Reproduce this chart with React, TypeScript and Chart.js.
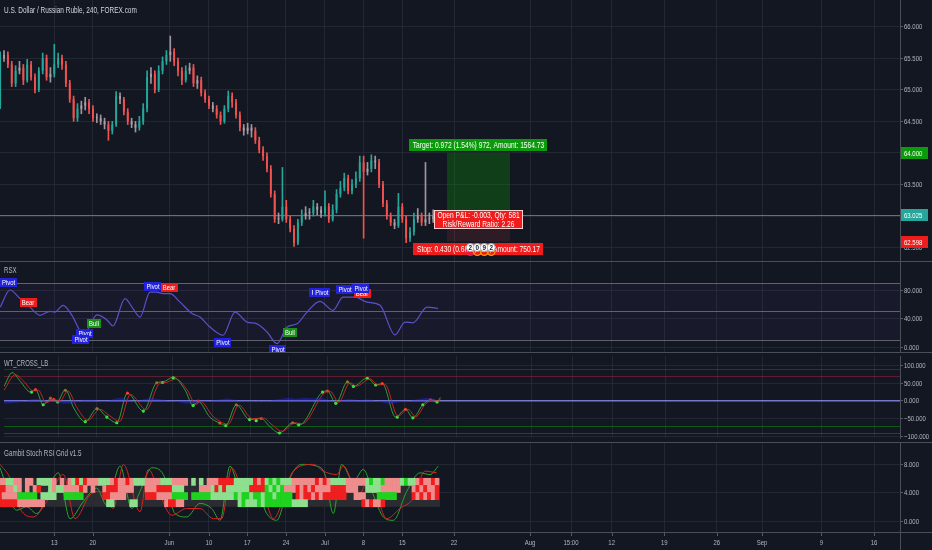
import React, { useEffect, useRef } from "react";
import { Chart, registerables } from "chart.js";

Chart.register(...registerables);

// ---------------- colours / text ----------------
const BG = "#131722";
const GRID = "rgba(42,46,57,0.75)";
const AXIS_TEXT = "#b2b5be";
const SEPARATOR = "#4a4e59";
const FONT = '"Liberation Sans", Arial, sans-serif';
const SX = 0.74;
const UP = "#26a69a";
const DOWN = "#ef5350";
const NEUTRAL = "rgba(172,160,168,0.92)";
const GREEN_TAG = "#0b9a0b";
const RED_TAG = "#ee1c1c";
const TEAL_TAG = "#26a69a";

// ---------------- time axis (unit = trading day from Mon 6 May) ----------------
const X_MIN_DAY = -2.02;
const X_MAX_DAY = 114.36;
const xTickDays = [5, 9.97, 19.87, 25.0, 29.96, 34.96, 40.0, 44.96, 50.0, 56.69, 66.52, 71.82, 77.08, 83.88, 90.66, 96.52, 104.19, 111.0];
const xTickLabels = ["13", "20", "Jun", "10", "17", "24", "Jul", "8", "15", "22", "Aug", "15:00", "12", "19", "26", "Sep", "9", "16"];

// ---------------- price pane ----------------
const titleText = "U.S. Dollar / Russian Ruble, 240, FOREX.com";
const PRICE_MIN = 62.29;
const PRICE_MAX = 66.42;
const priceTicks = [62.5, 63, 63.5, 64, 64.5, 65, 65.5, 66];
const FIRST_BAR_DAY = -2;
const BAR_STEP = 0.5;
const firstOpen = 64.75;
const closes = [
  65.50, 65.55, 65.40, 65.10, 65.30, 65.35, 65.15, 65.40, 65.20, 65.00,
  65.30, 65.50, 65.20, 65.25, 65.40, 65.50, 65.40, 65.10, 64.85, 64.55,
  64.70, 64.75, 64.80, 64.70, 64.55, 64.55, 64.50, 64.45, 64.35, 64.45,
  64.90, 64.85, 64.65, 64.50, 64.45, 64.40, 64.50, 64.70, 65.20, 65.25,
  65.00, 65.30, 65.45, 65.55, 65.60, 65.45, 65.30, 65.15, 65.30, 65.35,
  65.10, 65.15, 64.95, 64.85, 64.75, 64.70, 64.60, 64.50, 64.70, 64.90,
  64.80, 64.60, 64.40, 64.35, 64.40, 64.35, 64.20, 64.05, 63.95, 63.75,
  63.35, 62.95, 62.95, 63.15, 62.95, 62.80, 62.58, 62.90, 63.00, 63.05,
  63.05, 63.15, 63.10, 63.05, 63.15, 62.95, 63.10, 63.35, 63.45, 63.60,
  63.40, 63.50, 63.60, 63.85, 63.70, 63.75, 63.88, 63.85, 63.50, 63.20,
  63.00, 62.90, 62.85, 63.15, 62.95, 62.65, 62.75, 62.95, 63.00, 62.90,
  62.95, 62.95, 63.00, 63.025,
];
const highs = [
  65.60, 65.62, 65.60, 65.45, 65.38, 65.45, 65.40, 65.48, 65.45, 65.25,
  65.35, 65.58, 65.55, 65.35, 65.72, 65.58, 65.55, 65.45, 65.15, 64.90,
  64.78, 64.82, 64.88, 64.85, 64.75, 64.62, 64.60, 64.55, 64.50, 64.50,
  64.97, 64.95, 64.88, 64.70, 64.55, 64.50, 64.58, 64.78, 65.30, 65.35,
  65.30, 65.38, 65.52, 65.62, 65.85, 65.65, 65.50, 65.35, 65.38, 65.42,
  65.40, 65.22, 65.20, 65.00, 64.90, 64.80, 64.75, 64.65, 64.75, 64.98,
  64.95, 64.85, 64.65, 64.45, 64.47, 64.45, 64.40, 64.25, 64.10, 64.00,
  63.80, 63.40, 63.05, 63.77, 63.25, 63.00, 62.85, 62.95, 63.10, 63.15,
  63.12, 63.25, 63.20, 63.15, 63.40, 63.20, 63.18, 63.42, 63.55, 63.68,
  63.65, 63.58, 63.70, 63.95, 63.95, 63.85, 63.97, 63.95, 63.90, 63.55,
  63.25, 63.05, 62.95, 63.36, 63.20, 63.00, 62.82, 63.05, 63.12, 63.05,
  63.85, 63.05, 63.10, 63.08,
];
const lows = [
  64.70, 65.45, 65.35, 65.05, 65.05, 65.25, 65.08, 65.12, 65.15, 64.95,
  64.97, 65.25, 65.15, 65.12, 65.20, 65.35, 65.32, 65.05, 64.80, 64.50,
  64.50, 64.62, 64.68, 64.62, 64.50, 64.48, 64.45, 64.38, 64.20, 64.30,
  64.42, 64.78, 64.60, 64.45, 64.40, 64.33, 64.36, 64.45, 64.65, 65.10,
  64.95, 64.97, 65.25, 65.40, 65.45, 65.38, 65.22, 65.08, 65.12, 65.25,
  65.05, 65.02, 64.90, 64.80, 64.70, 64.65, 64.55, 64.45, 64.47, 64.65,
  64.72, 64.55, 64.35, 64.28, 64.30, 64.25, 64.15, 64.00, 63.88, 63.70,
  63.30, 62.90, 62.88, 62.92, 62.90, 62.75, 62.52, 62.55, 62.85, 62.95,
  62.95, 63.00, 63.02, 62.98, 63.00, 62.90, 62.92, 63.05, 63.30, 63.40,
  63.35, 63.35, 63.45, 63.55, 62.65, 63.65, 63.70, 63.75, 63.45, 63.15,
  62.95, 62.85, 62.80, 62.82, 62.90, 62.58, 62.60, 62.70, 62.90, 62.85,
  62.85, 62.88, 62.90, 62.95,
];
const entryPrice = 63.025;
const targetPrice = 64.0;
const stopPrice = 62.598;
const positionDays = [55.78, 63.93];
const targetText = "Target: 0.972 (1.54%) 972, Amount: 1564.73";
const pnlLines = ["Open P&L: -0.003, Qty: 581", "Risk/Reward Ratio: 2.26"];
const stopText = "Stop: 0.430 (0.68%) 430, Amount: 750.17";
const eventDays = [58.8, 59.7, 60.6, 61.5];
const eventTexts = ["2", "0", "9", "2"];
const eventRingColors = ["#e91e63", "#ff9800", "#ff9800", "#ff9800"];

// ---------------- RSX pane ----------------
const RSX_MIN = -7;
const RSX_MAX = 120.7;
const rsxTicks = [0, 40, 80];
const rsxLevels = [90, 50, 10];
const rsxDays = [-2.0, -0.73, 0.57, 1.86, 3.15, 4.44, 5.09, 6.13, 7.29, 8.58, 8.97, 10.52, 11.81, 12.59, 14.14, 15.18, 16.08, 17.38, 18.28, 19.06, 19.96, 21.26, 22.81, 23.84, 25.14, 26.82, 28.37, 29.92, 31.21, 32.51, 33.8, 35.09, 36.38, 37.68, 39.36, 41.04, 42.33, 43.88, 45.44, 47.12, 49.06, 50.35, 51.38, 53.2, 54.62];
const rsxValues = [56, 80, 68, 56, 44.5, 50, 49, 58.5, 44.5, 21, 21, 45, 38, 29.5, 68, 54, 42, 77, 77, 75, 75, 63, 47, 42, 28, 16.5, 49, 35, 32.5, 21, 4.7, 28, 32.5, 49, 64, 51.5, 70, 70, 63, 58.5, 17, 35, 34, 56, 54];
const rsxLabelDays = [-0.9, 1.6, 8.97, 10.14, 8.45, 17.76, 19.83, 26.81, 33.93, 35.48, 39.1, 39.6, 44.8, 42.59, 44.66];
const rsxLabelValues = [91, 63, 19, 32.3, 11.2, 85.6, 84.2, 7, -4, 21, 75.8, 75.8, 74.4, 81.4, 82.8];
const rsxLabelTexts = ["Pivot", "Bear", "Pivot", "Bull", "Pivot", "Pivot", "Bear", "Pivot", "Pivot", "Bull", "Pivot", "Pivot", "Bear", "Pivot", "Pivot"];

// ---------------- WT_CROSS_LB pane ----------------
const WT_MIN = -105.2;
const WT_MAX = 127.1;
const wtTicks = [-100, -50, 0, 50, 100];
const wtObLevels = [90, 70];
const wtOsLevels = [-70, -90];
const wt1Days = [-2.02, -0.95, 0.14, 1.43, 2.08, 3.07, 4.01, 4.88, 5.95, 7.03, 8.54, 10.05, 11.34, 12.63, 14.01, 16.08, 17.81, 18.67, 19.96, 21.47, 22.55, 23.19, 24.71, 26.0, 26.78, 28.15, 29.88, 31.38, 32.47, 33.76, 35.48, 36.35, 39.36, 40.0, 41.08, 42.59, 43.37, 45.18, 46.26, 47.12, 48.84, 50.13, 51.09, 52.38, 53.37, 54.23, 54.66];
const wt1Values = [41, 80, 54, 25, 32, -11, 6, -3, 32, -20, -59, -22, -46, -62, 22, -29, 51, 54, 67, 32, -13, -1, -46, -63, -70, -11, -53, -50, -72, -91, -62, -68, 25, 28, -7, 54, 41, 65, 45, 49, -46, -24, -48, -11, 3, -3, 10];
const wt2Days = [-2.02, -0.55, 0.55, 1.8, 2.45, 3.45, 4.35, 5.25, 6.3, 7.4, 8.9, 10.4, 11.7, 13.0, 14.4, 16.45, 18.15, 19.0, 20.3, 21.8, 22.9, 23.55, 25.05, 26.35, 27.1, 28.5, 30.2, 31.7, 32.8, 34.1, 35.8, 36.7, 39.7, 40.35, 41.45, 42.9, 43.75, 45.5, 46.6, 47.45, 49.15, 50.45, 51.45, 52.7, 53.7, 54.5, 54.66];
const wt2Values = [30, 74, 55, 28, 30, -6, 4, 0, 28, -17, -55, -24, -42, -58, 18, -25, 48, 52, 62, 30, -10, -2, -42, -62, -66, -12, -50, -49, -68, -86, -62, -65, 24, 27, -4, 51, 42, 62, 45, 47, -43, -24, -45, -10, 3, -1, 5];
const greenDotDays = [1.56, 3.07, 4.96, 8.54, 11.34, 12.63, 16.08, 18.58, 19.96, 22.55, 26.78, 29.88, 30.74, 33.76, 36.26, 39.36, 41.08, 43.37, 45.18, 46.26, 49.06, 51.09, 52.38, 54.23];
const greenDotValues = [25, -11, -3, -59, -46, -62, -29, 52, 65, -13, -70, -53, -56, -91, -68, 25, -7, 41, 64, 45, -46, -48, -11, -3];
const redDotDays = [2.08, 4.01, 4.44, 5.95, 10.05, 14.01, 17.81, 23.2, 26.0, 28.15, 31.38, 35.48, 40.0, 42.59, 47.12, 50.13, 53.37];
const redDotValues = [32, 8, 4, 30, -22, 22, 51, -1, -63, -11, -50, -62, 28, 54, 49, -24, 3];
const WT_HIST_FIRST_DAY = -2;
const wtHist = [-8, -6, -4, 2, 5, 3, -2, -5, -8, -6, 2, 3, 2, -3, 4, 8, 5, -2, 4, 8, 5, 2, -2, -5, -8, -6, -3, 2, 4, 7, 3, -2, -3, 2, -2, 3, 6, 8, 6, 9, 7, 8, 4, -2, 3, 5, 2, 4, 2, -4, -8, -5, -2, 2, 6, 8, 5];

// ---------------- Gambit Stoch RSI Grid pane ----------------
const GB_MIN = -1.54;
const GB_MAX = 11.09;
const gbTicks = [0, 4, 8];
const gbBand = [2, 6];
const gbBandDays = [-2.02, 54.88];
// one string per grid row (bottom row first); R red, r light red, G green, g light green, . empty
const gbRows = [
  "RRRRR" + "rrrrrrr" + "................" + "gg" + "...." + "gg" + "......." + "rRRrr" + ".............." + "gGgggGg" + "GGGGGGG" + "gggg" + ".............." + "RrRrrR" + "..............",
  "R" + "rrrr" + "GGGGG" + "." + "gggg" + ".." + "GGGGG" + "....." + "RR" + "rrrr" + "....." + "RRR" + "rrrr" + "GGGG" + "." + "GGGGG" + "gggggg" + "GgGGgGGgGGg" + "GGGG" + "." + "RrRRrRrRR" + "RRRR" + ".." + "rrr" + "..." + "GGGGG" + "...." + "RrRrRrR",
  "RR" + "rr" + "g" + "r.r.r" + "R" + ".." + "grgg" + "rrrr" + "R" + "r.r..r" + "RRR" + "rrrr" + "..." + "rrr" + "RRRR" + "ggg" + "...." + "rrr" + "gRgRg" + "ggggg" + "RRRR" + "GgGgG" + "rrr" + "RrRrRr" + "rrr" + "RRRR" + "rrr" + ".." + "gggg" + "rrrrr" + "..." + "rRrRrrR",
  "rr" + "gg" + "rr" + "." + "rr" + ".g" + "ggg" + "r.r.r" + "gRgR" + "rrr" + "ggg" + "rRrrRr" + "ggg" + "rrrr" + "ggg" + "rrrr" + ".g.g." + "rrr" + "RRRR" + "ggggg" + "RrR" + "gGgGggg" + "rrrrr" + "rRrRr" + "gggg" + "rrrrr" + "gGggG" + "rrrr" + "gGgg" + "rRrrRr",
];
const gbCellColors: Record<string, string> = { R: "#f01e1e", r: "#ef8c8c", G: "#1fd21f", g: "#8ee08e" };
const kDays = [-2.02, 0.14, 1.43, 2.72, 5.52, 7.03, 8.75, 10.48, 11.77, 13.5, 15.01, 16.08, 17.6, 19.1, 20.61, 22.12, 23.84, 25.35, 26.43, 27.72, 29.01, 30.74, 32.47, 33.76, 35.48, 36.99, 38.93, 40.01, 41.08, 42.16, 43.67, 44.96, 46.26, 47.55, 48.84, 50.57, 52.29, 53.58, 54.66];
const kValues = [7.47, 1.52, 2.0, 1.05, 6.76, 0.33, 2.71, 4.62, 2.24, 7.71, 1.76, 4.14, 7.47, 6.52, 1.05, 0.57, 2.48, 1.76, 0.1, 7.71, 4.62, 5.57, 1.05, 0.1, 6.05, 7.95, 7.71, 6.52, 1.05, 7.95, 5.57, 7.24, 3.67, 0.57, 0.1, 4.14, 6.76, 6.52, 7.71];
const dDays = [-2.02, -0.73, 0.57, 2.29, 4.01, 6.17, 7.68, 9.62, 10.91, 12.63, 13.93, 16.08, 17.16, 18.67, 20.18, 22.12, 23.84, 25.56, 26.64, 27.94, 29.88, 31.6, 33.32, 35.91, 38.49, 39.79, 41.52, 42.38, 44.31, 45.83, 47.98, 49.7, 51.43, 52.94, 54.45];
const dValues = [7.95, 6.05, 1.76, 0.57, 2.71, 6.52, 0.33, 3.67, 4.14, 1.76, 7.95, 1.29, 7.24, 3.67, 0.81, 1.76, 1.76, 0.33, 0.33, 7.47, 3.19, 5.1, 0.33, 7.0, 7.95, 7.0, 6.52, 7.71, 3.67, 6.05, 0.33, 1.76, 3.19, 7.0, 6.76];

// ---------------- helpers ----------------
const barDays = closes.map((_, i) => FIRST_BAR_DAY + i * BAR_STEP);

function drawText(ctx: any, text: string, x: number, y: number, o: any = {}) {
  const size = o.size ?? 9;
  const sx = o.sx ?? SX;
  ctx.save();
  ctx.font = `${o.weight ?? "normal"} ${size}px ${FONT}`;
  ctx.fillStyle = o.color ?? AXIS_TEXT;
  ctx.textBaseline = "middle";
  ctx.textAlign = "left";
  const w = ctx.measureText(text).width * sx;
  const left = o.align === "center" ? x - w / 2 : o.align === "right" ? x - w : x;
  ctx.translate(left, y);
  ctx.scale(sx, 1);
  ctx.fillText(text, 0, 0);
  ctx.restore();
  return w;
}

function textWidth(ctx: any, text: string, size: number, weight = "normal") {
  ctx.save();
  ctx.font = `${weight} ${size}px ${FONT}`;
  const w = ctx.measureText(text).width * SX;
  ctx.restore();
  return w;
}

const fmt = (v: number) => (v < 0 ? "\u2212" : "") + Math.abs(v).toFixed(3);

function hLine(ctx: any, x0: number, x1: number, y: number, color: string, width = 1) {
  ctx.save();
  ctx.strokeStyle = color;
  ctx.lineWidth = width;
  const yy = Math.round(y) + 0.5;
  ctx.beginPath();
  ctx.moveTo(x0, yy);
  ctx.lineTo(x1, yy);
  ctx.stroke();
  ctx.restore();
}

function drawYLabels(chart: any, ticks: number[]) {
  const { ctx, chartArea: a, scales } = chart;
  ticks.forEach((v) => drawText(ctx, fmt(v), a.right + 4, scales.y.getPixelForValue(v) + 0.5, { size: 7.5, sx: 0.8 }));
}

function topSeparator(chart: any) {
  hLine(chart.ctx, 0, chart.width, 0, SEPARATOR, 1);
}

function labelBox(ctx: any, lines: string[], cx: number, top: number, h: number, bg: string, border?: string) {
  const size = 9;
  const w = Math.round(Math.max(...lines.map((l) => textWidth(ctx, l, size))) + 7);
  const left = Math.round(cx - w / 2);
  ctx.save();
  ctx.fillStyle = bg;
  ctx.fillRect(left, Math.round(top), w, h);
  if (border) {
    ctx.strokeStyle = border;
    ctx.lineWidth = 1;
    ctx.strokeRect(left + 0.5, Math.round(top) + 0.5, w - 1, h - 1);
  }
  ctx.restore();
  const lh = h / lines.length;
  lines.forEach((l, i) => drawText(ctx, l, cx, Math.round(top) + lh * (i + 0.5) + 0.5, { size, color: "#ffffff", align: "center" }));
}

function baseOptions(yMin: number, yMax: number, yTicks: number[], xh: number): any {
  return {
    responsive: false,
    animation: false,
    events: [],
    layout: { padding: 0 },
    plugins: { legend: { display: false }, tooltip: { enabled: false } },
    scales: {
      x: {
        type: "linear",
        min: X_MIN_DAY,
        max: X_MAX_DAY,
        offset: false,
        afterBuildTicks: (s: any) => {
          s.ticks = xTickDays.map((v) => ({ value: v }));
        },
        afterFit: (s: any) => {
          s.height = xh;
        },
        ticks: { display: false },
        grid: { color: GRID, drawTicks: false, offset: false },
        border: { display: false },
      },
      y: {
        type: "linear",
        position: "right",
        min: yMin,
        max: yMax,
        afterBuildTicks: (s: any) => {
          s.ticks = yTicks.map((v) => ({ value: v }));
        },
        afterFit: (s: any) => {
          s.width = 32;
        },
        ticks: { display: false },
        grid: { color: GRID, drawTicks: true, tickLength: 3, tickColor: "#555966" },
        border: { display: true, color: SEPARATOR },
      },
    },
  };
}

// ---------------- overlays ----------------
const mainOverlay = {
  id: "mainOverlay",
  beforeDatasetsDraw(chart: any) {
    const { ctx, chartArea: a, scales } = chart;
    const { x, y } = scales;
    const x0 = x.getPixelForValue(positionDays[0]);
    const x1 = x.getPixelForValue(positionDays[1]);
    const yT = y.getPixelForValue(targetPrice);
    const yE = y.getPixelForValue(entryPrice);
    const yS = y.getPixelForValue(stopPrice);
    ctx.save();
    ctx.fillStyle = "rgba(8,153,8,0.3)";
    ctx.fillRect(x0, yT, x1 - x0, yE - yT);
    ctx.fillStyle = "rgba(242,54,69,0.12)";
    ctx.fillRect(x0, yE, x1 - x0, yS - yE);
    ctx.restore();
    hLine(ctx, a.left, a.right, yE, "rgba(38,166,154,0.85)", 1);
  },
  afterDatasetsDraw(chart: any) {
    const { ctx, scales } = chart;
    const { x, y } = scales;
    const cx = (x.getPixelForValue(positionDays[0]) + x.getPixelForValue(positionDays[1])) / 2;
    const yT = y.getPixelForValue(targetPrice);
    const yE = y.getPixelForValue(entryPrice);
    const yS = y.getPixelForValue(stopPrice);
    labelBox(ctx, [targetText], cx, yT - 14, 12, GREEN_TAG);
    labelBox(ctx, pnlLines, cx, yE - 5, 19, RED_TAG, "rgba(255,230,230,0.9)");
    labelBox(ctx, [stopText], cx, yS + 1, 12, RED_TAG);
    const ey = yS + 6;
    ctx.save();
    eventDays.forEach((d, i) => {
      const px = x.getPixelForValue(d);
      ctx.strokeStyle = eventRingColors[i];
      ctx.lineWidth = 1.3;
      ctx.beginPath();
      ctx.arc(px, ey + 4, 3.8, 0, Math.PI * 2);
      ctx.stroke();
    });
    eventDays.forEach((d, i) => {
      const px = x.getPixelForValue(d);
      ctx.fillStyle = "#ffffff";
      ctx.strokeStyle = "#9aa0aa";
      ctx.lineWidth = 0.8;
      ctx.beginPath();
      ctx.arc(px, ey, 4, 0, Math.PI * 2);
      ctx.fill();
      ctx.stroke();
      drawText(ctx, eventTexts[i], px, ey + 0.5, { size: 7, color: "#131722", align: "center", weight: "bold", sx: 0.9 });
    });
    ctx.restore();
  },
  afterDraw(chart: any) {
    const { ctx, chartArea: a, scales } = chart;
    drawYLabels(chart, priceTicks);
    const tags: [number, string][] = [
      [targetPrice, GREEN_TAG],
      [entryPrice, TEAL_TAG],
      [stopPrice, RED_TAG],
    ];
    tags.forEach(([p, c]) => {
      const py = Math.round(scales.y.getPixelForValue(p));
      ctx.save();
      ctx.fillStyle = c;
      ctx.fillRect(a.right + 1, py - 6, 27, 12);
      ctx.restore();
      drawText(ctx, p.toFixed(3), a.right + 4, py + 0.5, { size: 7.5, sx: 0.8, color: "#ffffff" });
    });
    drawText(ctx, titleText, 4, 10, { size: 9.5, sx: 0.68, color: "#d1d4dc" });
  },
};

const rsxOverlay = {
  id: "rsxOverlay",
  beforeDatasetsDraw(chart: any) {
    const { ctx, chartArea: a, scales } = chart;
    const yTop = scales.y.getPixelForValue(rsxLevels[0]);
    const yBot = scales.y.getPixelForValue(rsxLevels[2]);
    ctx.save();
    ctx.fillStyle = "rgba(120,60,190,0.07)";
    ctx.fillRect(a.left, yTop, a.right - a.left, yBot - yTop);
    ctx.restore();
    rsxLevels.forEach((lv) => hLine(ctx, a.left, a.right, scales.y.getPixelForValue(lv), "rgba(120,123,134,0.75)", 1));
  },
  afterDatasetsDraw(chart: any) {
    const { ctx, scales } = chart;
    rsxLabelDays.forEach((d, i) => {
      const t = rsxLabelTexts[i];
      const px = scales.x.getPixelForValue(d);
      const py = scales.y.getPixelForValue(rsxLabelValues[i]);
      const w = textWidth(ctx, t, 8) + 4;
      const h = 9;
      ctx.save();
      ctx.fillStyle = t === "Pivot" ? "#2222dd" : t === "Bull" ? "#1b8f1b" : "#ee1c1c";
      ctx.fillRect(Math.round(px - w / 2), Math.round(py - h / 2), Math.round(w), h);
      ctx.restore();
      drawText(ctx, t, px, Math.round(py - h / 2) + h / 2 + 0.5, { size: 8, color: "#ffffff", align: "center" });
    });
  },
  afterDraw(chart: any) {
    drawYLabels(chart, rsxTicks);
    topSeparator(chart);
    drawText(chart.ctx, "RSX", 4, 10, { size: 8.5, sx: 0.72 });
  },
};

const wtOverlay = {
  id: "wtOverlay",
  beforeDatasetsDraw(chart: any) {
    const { ctx, chartArea: a, scales } = chart;
    wtObLevels.forEach((lv) => hLine(ctx, a.left, a.right, scales.y.getPixelForValue(lv), "rgba(220,40,70,0.38)", 1));
    hLine(ctx, a.left, a.right, scales.y.getPixelForValue(wtOsLevels[0]), "rgba(0,190,0,0.4)", 1);
    hLine(ctx, a.left, a.right, scales.y.getPixelForValue(wtOsLevels[1]), "rgba(90,140,100,0.35)", 1);
    ctx.save();
    ctx.strokeStyle = "rgba(150,150,255,0.75)";
    ctx.lineWidth = 1.5;
    const y0 = scales.y.getPixelForValue(0);
    ctx.beginPath();
    ctx.moveTo(a.left, y0);
    ctx.lineTo(a.right, y0);
    ctx.stroke();
    ctx.restore();
  },
  afterDraw(chart: any) {
    drawYLabels(chart, wtTicks);
    topSeparator(chart);
    drawText(chart.ctx, "WT_CROSS_LB", 4, 11.5, { size: 8.5, sx: 0.7 });
  },
};

const gbOverlay = {
  id: "gbOverlay",
  beforeDatasetsDraw(chart: any) {
    const { ctx, scales } = chart;
    const x0 = scales.x.getPixelForValue(gbBandDays[0]);
    const x1 = scales.x.getPixelForValue(gbBandDays[1]);
    const y0 = scales.y.getPixelForValue(gbBand[1]);
    const y1 = scales.y.getPixelForValue(gbBand[0]);
    ctx.save();
    ctx.fillStyle = "#2b2c32";
    ctx.fillRect(x0, y0, x1 - x0, y1 - y0);
    ctx.restore();
  },
  afterDraw(chart: any) {
    const { ctx, chartArea: a, scales } = chart;
    drawYLabels(chart, gbTicks);
    topSeparator(chart);
    hLine(ctx, 0, chart.width, a.bottom, SEPARATOR, 1);
    ctx.save();
    ctx.strokeStyle = SEPARATOR;
    ctx.lineWidth = 1;
    ctx.beginPath();
    ctx.moveTo(Math.round(a.right) + 0.5, a.bottom);
    ctx.lineTo(Math.round(a.right) + 0.5, chart.height);
    ctx.stroke();
    ctx.strokeStyle = "#555966";
    xTickDays.forEach((d) => {
      const px = Math.round(scales.x.getPixelForValue(d)) + 0.5;
      ctx.beginPath();
      ctx.moveTo(px, a.bottom + 1);
      ctx.lineTo(px, a.bottom + 4);
      ctx.stroke();
    });
    ctx.restore();
    xTickDays.forEach((d, i) => drawText(ctx, xTickLabels[i], scales.x.getPixelForValue(d), a.bottom + 11, { size: 7.5, sx: 0.8, align: "center" }));
    drawText(ctx, "Gambit Stoch RSI Grid v1.5", 4, 12, { size: 8.5, sx: 0.74 });
  },
};

// ---------------- chart configs ----------------
function mainConfig(): any {
  const opens = closes.map((c, i) => (i === 0 ? firstOpen : closes[i - 1]));
  const colors = closes.map((c, i) => (Math.abs(c - opens[i]) < 0.051 ? NEUTRAL : c > opens[i] ? UP : DOWN));
  return {
    type: "bar",
    data: {
      datasets: [
        { data: barDays.map((x, i) => ({ x, y: [lows[i], highs[i]] })), backgroundColor: colors, barThickness: 1, grouped: false, borderWidth: 0 },
        { data: barDays.map((x, i) => ({ x, y: [opens[i], closes[i]] })), backgroundColor: colors, barPercentage: 0.5, categoryPercentage: 1, grouped: false, borderWidth: 0, minBarLength: 1 },
      ],
    },
    options: baseOptions(PRICE_MIN, PRICE_MAX, priceTicks, 0),
    plugins: [mainOverlay],
  };
}

function rsxConfig(): any {
  return {
    type: "line",
    data: {
      datasets: [
        { data: rsxDays.map((x, i) => ({ x, y: rsxValues[i] })), borderColor: "#5a52c8", borderWidth: 1.2, pointRadius: 0, cubicInterpolationMode: "monotone" },
      ],
    },
    options: baseOptions(RSX_MIN, RSX_MAX, rsxTicks, 0),
    plugins: [rsxOverlay],
  };
}

function wtConfig(): any {
  return {
    type: "line",
    data: {
      datasets: [
        { data: wtHist.map((v, i) => ({ x: WT_HIST_FIRST_DAY + i, y: v })), borderWidth: 0, backgroundColor: "rgba(40,40,235,0.45)", fill: "origin", pointRadius: 0, tension: 0.4 },
        { data: wt2Days.map((x, i) => ({ x, y: wt2Values[i] })), borderColor: "rgba(225,40,40,0.85)", borderWidth: 1, pointRadius: 0, cubicInterpolationMode: "monotone" },
        { data: wt1Days.map((x, i) => ({ x, y: wt1Values[i] })), borderColor: "rgba(60,190,60,0.8)", borderWidth: 1, pointRadius: 0, cubicInterpolationMode: "monotone" },
        { data: greenDotDays.map((x, i) => ({ x, y: greenDotValues[i] })), showLine: false, pointRadius: 1.6, pointBackgroundColor: "#3cf03c", pointBorderWidth: 0 },
        { data: redDotDays.map((x, i) => ({ x, y: redDotValues[i] })), showLine: false, pointRadius: 1.6, pointBackgroundColor: "#ff2a2a", pointBorderWidth: 0 },
      ],
    },
    options: baseOptions(WT_MIN, WT_MAX, wtTicks, 0),
    plugins: [wtOverlay],
  };
}

function gbConfig(): any {
  const rowSets = gbRows.map((row, r) => {
    const data: any[] = [];
    const colors: string[] = [];
    row.split("").forEach((ch, i) => {
      if (ch === ".") return;
      data.push({ x: barDays[i], y: [gbBand[0] + r, gbBand[0] + r + 1] });
      colors.push(gbCellColors[ch]);
    });
    return { type: "bar", data, backgroundColor: colors, barPercentage: 1, categoryPercentage: 1, grouped: false, borderWidth: 0 };
  });
  return {
    type: "bar",
    data: {
      datasets: [
        ...rowSets,
        { type: "line", data: dDays.map((x, i) => ({ x, y: dValues[i] })), borderColor: "#d42424", borderWidth: 1, pointRadius: 0, cubicInterpolationMode: "monotone" },
        { type: "line", data: kDays.map((x, i) => ({ x, y: kValues[i] })), borderColor: "#2aa52a", borderWidth: 1, pointRadius: 0, cubicInterpolationMode: "monotone" },
      ],
    },
    options: baseOptions(GB_MIN, GB_MAX, gbTicks, 18),
    plugins: [gbOverlay],
  };
}

const PANES = [
  { top: 0, height: 261, make: mainConfig },
  { top: 261, height: 91, make: rsxConfig },
  { top: 352, height: 90, make: wtConfig },
  { top: 442, height: 108, make: gbConfig },
];

export default function App() {
  const refs = [useRef<HTMLCanvasElement>(null), useRef<HTMLCanvasElement>(null), useRef<HTMLCanvasElement>(null), useRef<HTMLCanvasElement>(null)];
  useEffect(() => {
    const charts = PANES.map((p, i) => new Chart(refs[i].current as HTMLCanvasElement, p.make()));
    return () => charts.forEach((c) => c.destroy());
  }, []);
  return (
    <div style={{ position: "fixed", left: 0, top: 0, width: 932, height: 550, background: BG, overflow: "hidden" }}>
      {PANES.map((p, i) => (
        <canvas key={i} ref={refs[i]} width={932} height={p.height} style={{ position: "absolute", left: 0, top: p.top, width: 932, height: p.height, display: "block" }} />
      ))}
    </div>
  );
}
